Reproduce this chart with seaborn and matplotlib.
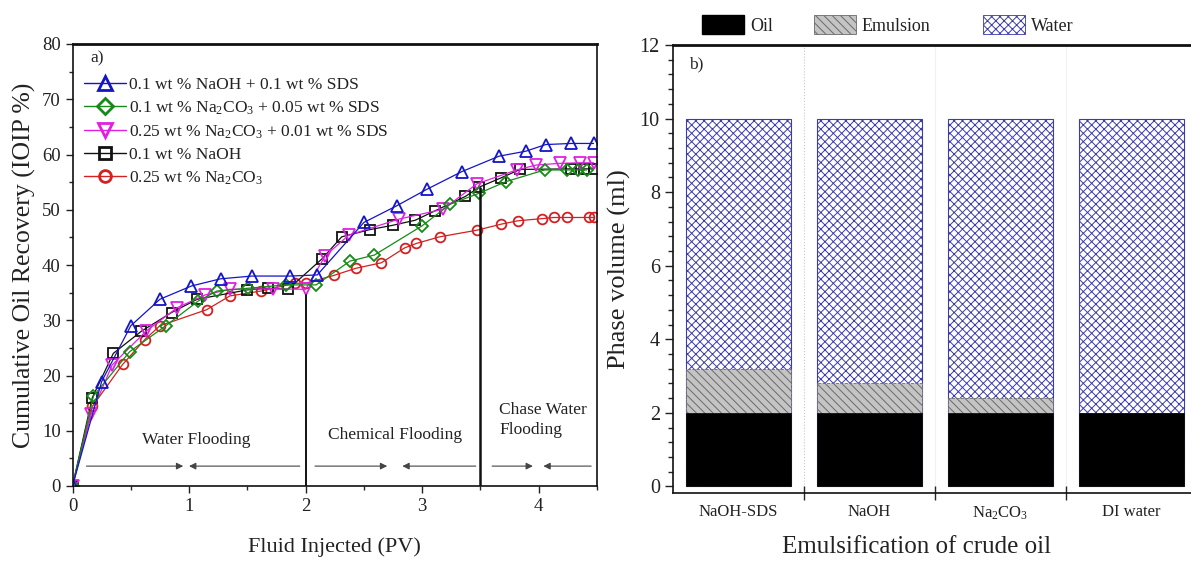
import numpy as np
import pandas as pd
import matplotlib
matplotlib.use("Agg")
import matplotlib.pyplot as plt
import seaborn as sns
from matplotlib.patches import Patch
from matplotlib.lines import Line2D
from matplotlib.ticker import MultipleLocator, FixedLocator, NullFormatter

sns.set_theme(style="white")
plt.rcParams['font.family'] = ['Liberation Serif', 'DejaVu Serif']
plt.rcParams['mathtext.fontset'] = 'custom'
plt.rcParams['mathtext.rm'] = 'Liberation Serif'
plt.rcParams['mathtext.it'] = 'Liberation Serif:italic'
plt.rcParams['mathtext.default'] = 'regular'
plt.rcParams['hatch.linewidth'] = 0.7

# ---------------- data: a) cumulative oil recovery ----------------
naoh_sds_x = [0, 0.25, 0.50, 0.75, 1.02, 1.27, 1.54, 1.87, 2.10, 2.50, 2.78, 3.04, 3.34, 3.66, 3.89, 4.06, 4.28, 4.47]
naoh_sds_y = [0, 18.9, 29.0, 33.8, 36.2, 37.5, 38.0, 38.0, 38.2, 47.7, 50.7, 53.7, 56.9, 59.7, 60.6, 61.8, 62.0, 62.0]

na2co3_sds005_x = [0, 0.18, 0.49, 0.80, 1.08, 1.24, 1.51, 1.83, 2.09, 2.38, 2.59, 3.00, 3.24, 3.49, 3.72, 4.05, 4.24, 4.34, 4.41]
na2co3_sds005_y = [0, 16.3, 24.3, 29.0, 33.5, 35.3, 35.8, 36.4, 36.4, 40.7, 41.8, 47.1, 51.0, 53.0, 55.1, 57.2, 57.2, 57.2, 57.2]

na2co3_sds001_x = [0, 0.16, 0.34, 0.63, 0.90, 1.14, 1.35, 1.72, 2.00, 2.17, 2.37, 2.80, 3.18, 3.47, 3.81, 3.98, 4.18, 4.35, 4.47]
na2co3_sds001_y = [0, 13.0, 21.9, 28.0, 32.3, 34.6, 35.6, 35.7, 35.6, 41.7, 45.4, 48.3, 50.1, 54.7, 57.2, 58.1, 58.4, 58.5, 58.5]

naoh_x = [0, 0.17, 0.35, 0.59, 0.85, 1.07, 1.50, 1.68, 1.85, 2.14, 2.31, 2.55, 2.75, 2.94, 3.11, 3.37, 3.49, 3.68, 3.84, 4.28, 4.39, 4.47]
naoh_y = [0, 16.0, 24.0, 28.0, 31.4, 33.8, 35.5, 35.8, 35.6, 41.1, 45.1, 46.4, 47.2, 48.1, 49.8, 52.4, 54.1, 55.8, 57.3, 57.4, 57.4, 57.4]

na2co3_x = [0, 0.17, 0.43, 0.62, 0.75, 1.15, 1.35, 1.62, 1.91, 2.00, 2.24, 2.43, 2.65, 2.85, 2.95, 3.15, 3.47, 3.68, 3.82, 4.03, 4.13, 4.24, 4.43, 4.47]
na2co3_y = [0, 14.4, 22.0, 26.5, 29.0, 31.9, 34.4, 35.3, 36.7, 36.7, 38.1, 39.4, 40.4, 43.1, 43.9, 45.1, 46.3, 47.4, 48.0, 48.4, 48.6, 48.6, 48.6, 48.6]

series_labels = [
    "0.1 wt % NaOH + 0.1 wt % SDS",
    "0.1 wt % Na$_2$CO$_3$ + 0.05 wt % SDS",
    "0.25 wt % Na$_2$CO$_3$ + 0.01 wt % SDS",
    "0.1 wt % NaOH",
    "0.25 wt % Na$_2$CO$_3$",
]

# ---------------- data: b) phase volumes ----------------
categories = ["NaOH-SDS", "NaOH", "Na$_2$CO$_3$", "DI water"]
oil_ml = [2.0, 2.0, 2.0, 2.0]
emulsion_ml = [1.18, 0.80, 0.40, 0.0]
water_ml = [6.82, 7.20, 7.60, 8.0]

# ---------------- figure ----------------
W, H = 1191, 562
fig = plt.figure(figsize=(W / 100, H / 100), dpi=100)
ax1 = fig.add_axes([72.5 / W, (H - 486) / H, (597 - 72.5) / W, (486 - 44) / H])
ax2 = fig.add_axes([673 / W, (H - 493.3) / H, (1197 - 673) / W, (493.3 - 45) / H])

# ---- left plot ----
styles = [
    (naoh_sds_x, naoh_sds_y, '^', '#1414c8'),
    (na2co3_sds005_x, na2co3_sds005_y, 'D', '#168a16'),
    (na2co3_sds001_x, na2co3_sds001_y, 'v', '#e020e0'),
    (naoh_x, naoh_y, 's', '#111111'),
    (na2co3_x, na2co3_y, 'o', '#d42020'),
]
msizes = {'^': 8, 'D': 6.5, 'v': 8, 's': 6.5, 'o': 7}
for (xs, ys, mk, col), lab in reversed(list(zip(styles, series_labels))):
    df = pd.DataFrame({"PV": xs, "Rec": ys})
    sns.lineplot(data=df, x="PV", y="Rec", ax=ax1, color=col, lw=0.9,
                 marker=mk, markersize=msizes[mk], markerfacecolor='none',
                 markeredgecolor=col, markeredgewidth=1.3, errorbar=None,
                 sort=False, label=None)

ax1.set_xlim(0, 4.5)
ax1.set_ylim(0, 80)
ax1.xaxis.set_major_locator(MultipleLocator(1))
ax1.xaxis.set_minor_locator(MultipleLocator(0.5))
ax1.yaxis.set_major_locator(MultipleLocator(10))
ax1.yaxis.set_minor_locator(MultipleLocator(5))
ax1.tick_params(axis='both', which='major', direction='out', length=5, width=1,
                labelsize=13.5, colors='#222222', left=True, bottom=True)
ax1.tick_params(axis='both', which='minor', direction='out', length=3, width=1,
                left=True, bottom=True)
for side, sp in ax1.spines.items():
    sp.set_color('#111111')
    sp.set_linewidth(1.2)
ax1.spines['top'].set_linewidth(2.0)
ax1.set_xlabel("Fluid Injected (PV)", fontsize=16, color='#222222', labelpad=16)
ax1.set_ylabel("Cumulative Oil Recovery (IOIP %)", fontsize=18.5, color='#222222', labelpad=4)
ax1.grid(False)

# vertical separators
ax1.plot([2.0, 2.0], [0, 34.5], color='#111111', lw=1.4)
ax1.plot([3.5, 3.5], [0, 54.0], color='#111111', lw=1.8)

# arrows
arrow_y = 3.6
arr = [(0.12, 0.95), (1.95, 1.0), (2.08, 2.70), (3.46, 2.83), (3.60, 3.95), (4.45, 4.04)]
for x0, x1 in arr:
    ax1.annotate('', xy=(x1, arrow_y), xytext=(x0, arrow_y),
                 arrowprops=dict(arrowstyle='-|>', color='#444444', lw=0.8,
                                 mutation_scale=10, shrinkA=0, shrinkB=0))
ax1.text(1.06, 8.3, "Water Flooding", fontsize=12.5, ha='center', va='center', color='#222222')
ax1.text(2.77, 9.2, "Chemical Flooding", fontsize=12.5, ha='center', va='center', color='#222222')
ax1.text(3.66, 12.0, "Chase Water\nFlooding", fontsize=12.5, ha='left', va='center',
         color='#222222', linespacing=1.3)
ax1.text(0.035, 0.985, "a)", transform=ax1.transAxes, fontsize=12.5, ha='left', va='top')

# legend
handles = []
for (xs, ys, mk, col) in styles:
    handles.append(Line2D([0], [0], color=col, lw=1.0, marker=mk, markersize=msizes[mk] + 1.5,
                          markerfacecolor='none', markeredgecolor=col, markeredgewidth=2.0))
leg = ax1.legend(handles, series_labels, loc='upper left', bbox_to_anchor=(0.022, 0.925),
                 frameon=False, fontsize=12.5, handlelength=2.4, handletextpad=0.2,
                 labelspacing=0.36, borderaxespad=0, borderpad=0)
for t in leg.get_texts():
    t.set_color('#222222')

# ---- right plot ----
totals = [o + e + w for o, e, w in zip(oil_ml, emulsion_ml, water_ml)]
oil_emul = [o + e for o, e in zip(oil_ml, emulsion_ml)]
df_b = pd.DataFrame({"cat": categories, "total": totals, "oe": oil_emul, "oil": oil_ml})

water_edge = '#3c3caa'
sns.barplot(data=df_b, x="cat", y="total", ax=ax2, color='white', width=0.8,
            edgecolor=water_edge, hatch='xxxx', linewidth=0.8, saturation=1)
sns.barplot(data=df_b, x="cat", y="oe", ax=ax2, color='#c4c4c4', width=0.8,
            edgecolor='#6a6a6a', hatch='\\\\\\\\', linewidth=0.6, linestyle='--', saturation=1)
sns.barplot(data=df_b, x="cat", y="oil", ax=ax2, color='black', width=0.8,
            edgecolor='black', linewidth=0.5, saturation=1)

ax2.set_xlim(-0.5, 3.5)
ax2.set_ylim(-0.185, 12)
ax2.yaxis.set_major_locator(MultipleLocator(2))
ax2.yaxis.set_minor_locator(MultipleLocator(0.4))
ax2.xaxis.set_major_locator(FixedLocator([0.5, 1.5, 2.5]))
ax2.xaxis.set_major_formatter(NullFormatter())
ax2.xaxis.set_minor_locator(FixedLocator([0, 1, 2, 3]))
ax2.set_xticklabels(categories, minor=True)
ax2.tick_params(axis='x', which='major', direction='inout', length=10, width=1, bottom=True)
ax2.tick_params(axis='x', which='minor', length=0, labelsize=12, pad=8, colors='#222222', bottom=True)
ax2.tick_params(axis='y', which='major', direction='out', length=6, width=1, labelsize=14.5,
                colors='#222222', left=True)
ax2.tick_params(axis='y', which='minor', direction='out', length=3.5, width=1, left=True)
for side, sp in ax2.spines.items():
    sp.set_color('#111111')
    sp.set_linewidth(1.2)
ax2.spines['top'].set_linewidth(2.0)
ax2.spines['right'].set_visible(False)
ax2.set_xlabel("Emulsification of crude oil", fontsize=18, color='#222222')
ax2.xaxis.set_label_coords((917 - 673) / (1197 - 673), -0.095)
ax2.set_ylabel("Phase volume (ml)", fontsize=19, color='#222222', labelpad=6)
ax2.grid(False)
ax2.axvline(0.5, color='#c8c8c8', lw=0.8, ls=':', zorder=0)
ax2.axvline(1.5, color='#f0f0f0', lw=0.8, zorder=0)
ax2.axvline(2.5, color='#f0f0f0', lw=0.8, zorder=0)
ax2.text(0.03, 0.975, "b)", transform=ax2.transAxes, fontsize=12.5, ha='left', va='top')

# top legend (separate entries)
leg_entries = [
    (Patch(facecolor='black', edgecolor='black'), "Oil", 702 / W),
    (Patch(facecolor='#c4c4c4', edgecolor='#6a6a6a', hatch='\\\\\\\\', linewidth=0.6), "Emulsion", 814 / W),
    (Patch(facecolor='white', edgecolor=water_edge, hatch='xxxx', linewidth=0.6), "Water", 983 / W),
]
for h, lab, xpos in leg_entries:
    lg = fig.legend([h], [lab], loc='center left', bbox_to_anchor=(xpos, 1 - 25 / H),
                    frameon=False, fontsize=13, handlelength=2.35, handleheight=1.25,
                    handletextpad=0.3, borderpad=0, borderaxespad=0)
    for t in lg.get_texts():
        t.set_color('#222222')

fig.savefig("out.png", dpi=100)
